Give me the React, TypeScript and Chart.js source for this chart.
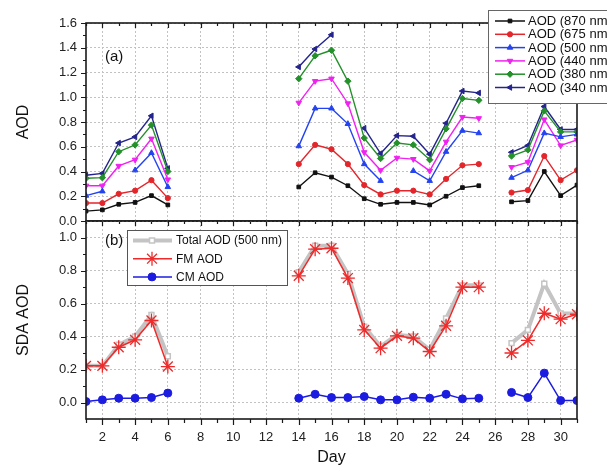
import React, { useEffect, useRef } from 'react';
import { Chart, registerables } from 'chart.js';
import { drawPoint } from 'chart.js/helpers';

Chart.register(...registerables);

const N = null;
const days = [1, 2, 3, 4, 5, 6, 7, 8, 9, 10, 11, 12, 13, 14, 15, 16, 17, 18, 19, 20, 21, 22, 23, 24, 25, 26, 27, 28, 29, 30, 31];
const xTickLabels = [2, 4, 6, 8, 10, 12, 14, 16, 18, 20, 22, 24, 26, 28, 30];
const topYTicks = [0, 0.2, 0.4, 0.6, 0.8, 1.0, 1.2, 1.4, 1.6];
const botYTicks = [0, 0.2, 0.4, 0.6, 0.8, 1.0];

const aod870 = [0.08, 0.09, 0.135, 0.15, 0.205, 0.13, N, N, N, N, N, N, N, 0.275, 0.39, 0.355, 0.285, 0.18, 0.135, 0.15, 0.15, 0.13, 0.2, 0.27, 0.285, N, 0.155, 0.165, 0.4, 0.205, 0.29];
const aod675 = [0.145, 0.145, 0.22, 0.245, 0.33, 0.185, N, N, N, N, N, N, N, 0.46, 0.615, 0.58, 0.46, 0.29, 0.215, 0.245, 0.245, 0.215, 0.34, 0.45, 0.46, N, 0.23, 0.25, 0.525, 0.33, 0.41];
const aod500 = [0.205, 0.24, N, 0.41, 0.55, 0.275, N, N, N, N, N, N, N, 0.605, 0.91, 0.91, 0.785, 0.46, 0.325, N, 0.405, 0.325, 0.56, 0.73, 0.71, N, 0.35, 0.41, 0.71, 0.68, 0.7];
const aod440 = [0.285, 0.285, 0.445, 0.495, 0.665, 0.335, N, N, N, N, N, N, N, 0.955, 1.13, 1.15, 0.95, 0.555, 0.41, 0.51, 0.5, 0.405, 0.64, 0.84, 0.83, N, 0.435, 0.475, 0.82, 0.61, 0.655];
const aod380 = [0.345, 0.35, 0.56, 0.615, 0.775, 0.4, N, N, N, N, N, N, N, 1.15, 1.335, 1.38, 1.13, 0.67, 0.505, 0.63, 0.615, 0.495, 0.745, 0.99, 0.975, N, 0.525, 0.575, 0.89, 0.72, 0.72];
const aod340 = [0.37, 0.385, 0.63, 0.68, 0.85, 0.425, N, N, N, N, N, N, N, 1.245, 1.39, 1.505, N, 0.75, 0.545, 0.69, 0.685, 0.54, 0.79, 1.05, 1.035, N, 0.555, 0.61, 0.925, 0.74, 0.74];

const totalAod = [0.222, 0.222, 0.35, 0.4, 0.53, 0.28, N, N, N, N, N, N, N, 0.79, 0.95, 0.95, 0.78, 0.46, 0.34, 0.41, 0.4, 0.32, 0.51, 0.71, 0.71, N, 0.36, 0.44, 0.72, 0.54, 0.54];
const fmAod = [0.222, 0.222, 0.335, 0.38, 0.497, 0.218, N, N, N, N, N, N, N, 0.768, 0.929, 0.935, 0.754, 0.44, 0.329, 0.404, 0.39, 0.309, 0.465, 0.699, 0.699, N, 0.3, 0.376, 0.541, 0.505, 0.535];
const cmAod = [0.006, 0.016, 0.026, 0.026, 0.03, 0.057, N, N, N, N, N, N, N, 0.026, 0.05, 0.03, 0.03, 0.036, 0.016, 0.016, 0.032, 0.026, 0.05, 0.022, 0.026, N, 0.061, 0.03, 0.178, 0.012, 0.012];

const FONT = "'Liberation Sans', Arial, sans-serif";

type Series = { label: string; data: (number | null)[]; color: string; style: string; rot: number; r: number; fill?: string; width: number; order: number };

const topSeries: Series[] = [
  { label: 'AOD (870 nm)', data: aod870, color: '#111111', style: 'rect', rot: 0, r: 2.6, width: 1.4, order: 1 },
  { label: 'AOD (675 nm)', data: aod675, color: '#e3262b', style: 'circle', rot: 0, r: 2.6, width: 1.4, order: 2 },
  { label: 'AOD (500 nm)', data: aod500, color: '#2443f0', style: 'triangle', rot: 0, r: 3.2, width: 1.4, order: 3 },
  { label: 'AOD (440 nm)', data: aod440, color: '#f022f0', style: 'triangle', rot: 180, r: 3.2, width: 1.4, order: 4 },
  { label: 'AOD (380 nm)', data: aod380, color: '#23902a', style: 'rectRot', rot: 0, r: 3.2, width: 1.4, order: 5 },
  { label: 'AOD (340 nm)', data: aod340, color: '#24248c', style: 'triangle', rot: 270, r: 3.2, width: 1.4, order: 6 },
];

const botSeries: Series[] = [
  { label: 'Total AOD (500 nm)', data: totalAod, color: '#c4c4c4', style: 'rect', rot: 0, r: 3.5, fill: '#ffffff', width: 4, order: 3 },
  { label: 'FM AOD', data: fmAod, color: '#ee2a2a', style: 'star', rot: 0, r: 7, width: 1.5, order: 1 },
  { label: 'CM AOD', data: cmAod, color: '#1c1ce0', style: 'circle', rot: 0, r: 4, width: 1.5, order: 2 },
];

function toPoints(vals: (number | null)[]) {
  return days.map((d, i) => ({ x: d, y: vals[i] }));
}

function makeDatasets(series: Series[]) {
  return series.map((s) => ({
    label: s.label,
    data: toPoints(s.data),
    borderColor: s.color,
    backgroundColor: s.color,
    borderWidth: s.width,
    pointStyle: s.style,
    pointRotation: s.rot,
    pointRadius: s.r,
    pointBackgroundColor: s.fill || s.color,
    pointBorderColor: s.color,
    pointBorderWidth: s.style === 'star' ? 1.3 : s.fill ? 1.5 : 1,
    spanGaps: false,
    tension: 0,
    order: s.order,
  }));
}

function drawMarker(ctx: CanvasRenderingContext2D, s: Series, x: number, y: number) {
  ctx.save();
  ctx.fillStyle = s.fill || s.color;
  ctx.strokeStyle = s.color;
  ctx.lineWidth = s.style === 'star' ? 1.3 : s.fill ? 1.5 : 1;
  drawPoint(ctx, { pointStyle: s.style as any, rotation: s.rot, radius: s.r, borderWidth: ctx.lineWidth }, x, y);
  ctx.restore();
}

function framePlugin(isBottom: boolean, nMinor: number) {
  return {
    id: 'frame',
    afterDraw(chart: any) {
      const { ctx } = chart;
      const { left, right, top, bottom } = chart.chartArea;
      const xs = chart.scales.x;
      const ys = chart.scales.y;
      ctx.save();
      ctx.strokeStyle = '#1a1a1a';
      ctx.lineWidth = 1.2;
      ctx.beginPath();
      for (const d of days) {
        const px = Math.round(xs.getPixelForValue(d)) + 0.5;
        const len = d % 2 === 0 ? 5 : 3;
        ctx.moveTo(px, top);
        ctx.lineTo(px, top + len);
        if (isBottom) {
          ctx.moveTo(px, bottom);
          ctx.lineTo(px, bottom + len + 1);
        }
      }
      for (let i = 0; i <= nMinor; i++) {
        const py = Math.round(ys.getPixelForValue(i / 10)) + 0.5;
        const len = i % 2 === 0 ? 5 : 3;
        ctx.moveTo(left, py);
        ctx.lineTo(left - len, py);
      }
      ctx.stroke();
      ctx.lineWidth = 1.6;
      ctx.strokeRect(left, top, right - left, bottom - top);
      ctx.restore();
    },
  };
}

function legendPlugin(isBottom: boolean) {
  return {
    id: 'customLegend',
    afterDraw(chart: any) {
      const { ctx } = chart;
      ctx.save();
      ctx.textBaseline = 'middle';
      ctx.textAlign = 'left';
      if (!isBottom) {
        ctx.font = `13px ${FONT}`;
        ctx.fillStyle = '#ffffff';
        ctx.fillRect(488, 10, 140, 93);
        ctx.strokeStyle = '#666666';
        ctx.lineWidth = 1;
        ctx.strokeRect(488.5, 10.5, 140, 93);
        topSeries.forEach((s, i) => {
          const y = 21 + i * 13.3;
          ctx.strokeStyle = s.color;
          ctx.lineWidth = 1.5;
          ctx.beginPath();
          ctx.moveTo(495, y);
          ctx.lineTo(525, y);
          ctx.stroke();
          drawMarker(ctx, s, 510, y);
          ctx.fillStyle = '#111111';
          ctx.fillText(s.label, 528, y + 0.5);
        });
        ctx.font = `15px ${FONT}`;
        ctx.fillStyle = '#111111';
        ctx.fillText('(a)', 105, 57);
      } else {
        ctx.font = `12px ${FONT}`;
        ctx.fillStyle = '#ffffff';
        ctx.fillRect(127, 230, 160, 55);
        ctx.strokeStyle = '#555555';
        ctx.lineWidth = 1;
        ctx.strokeRect(127.5, 230.5, 160, 55);
        botSeries.forEach((s, i) => {
          const y = 240.5 + i * 18.2;
          ctx.strokeStyle = s.color;
          ctx.lineWidth = s.width;
          ctx.beginPath();
          ctx.moveTo(133, y);
          ctx.lineTo(172, y);
          ctx.stroke();
          drawMarker(ctx, s, 152, y);
          ctx.fillStyle = '#111111';
          ctx.fillText(s.label, 176, y + 0.5);
        });
        ctx.font = `15px ${FONT}`;
        ctx.fillStyle = '#111111';
        ctx.fillText('(b)', 105, 241);
      }
      ctx.restore();
    },
  };
}

function xScale(isBottom: boolean) {
  return {
    type: 'linear',
    min: 1,
    max: 31,
    afterBuildTicks: (s: any) => {
      s.ticks = xTickLabels.map((v) => ({ value: v }));
    },
    afterFit: (s: any) => {
      s.height = isBottom ? 47 : 0;
    },
    grid: { color: '#c2c2c2', lineWidth: 1, drawTicks: false },
    border: { display: false, dash: [2, 2] },
    ticks: {
      display: isBottom,
      padding: 11,
      color: '#222222',
      font: { size: 13, family: FONT },
      maxRotation: 0,
      autoSkip: false,
      callback: (v: any) => String(v),
    },
    title: {
      display: isBottom,
      text: 'Day',
      color: '#111111',
      font: { size: 16, family: FONT, lineHeight: 1 },
      padding: { top: 0, bottom: 0 },
    },
  };
}

function yScale(min: number, max: number, ticks: number[], title: string) {
  return {
    type: 'linear',
    min,
    max,
    afterBuildTicks: (s: any) => {
      s.ticks = ticks.map((v) => ({ value: v }));
    },
    afterFit: (s: any) => {
      s.width = 86;
    },
    grid: { color: '#c2c2c2', lineWidth: 1, drawTicks: false },
    border: { display: false, dash: [2, 2] },
    ticks: {
      padding: 9,
      color: '#222222',
      font: { size: 13, family: FONT },
      callback: (v: any) => Number(v).toFixed(1),
    },
    title: {
      display: true,
      text: title,
      color: '#111111',
      font: { size: 16, family: FONT },
      padding: { top: 14, bottom: 0 },
    },
  };
}

export default function App() {
  const topRef = useRef<HTMLCanvasElement>(null);
  const botRef = useRef<HTMLCanvasElement>(null);

  useEffect(() => {
    Chart.defaults.font.family = FONT;
    const common = {
      responsive: false,
      animation: false,
      plugins: { legend: { display: false }, tooltip: { enabled: false } },
    };
    const top = new Chart(topRef.current as HTMLCanvasElement, {
      type: 'line',
      data: { datasets: makeDatasets(topSeries) as any },
      options: {
        ...common,
        layout: { padding: { top: 23, bottom: 245, left: 0, right: 30 } },
        scales: { x: xScale(false) as any, y: yScale(0, 1.6, topYTicks, 'AOD') as any },
      } as any,
      plugins: [framePlugin(false, 16), legendPlugin(false)],
    });
    const bot = new Chart(botRef.current as HTMLCanvasElement, {
      type: 'line',
      data: { datasets: makeDatasets(botSeries) as any },
      options: {
        ...common,
        layout: { padding: { top: 221, bottom: 0, left: 0, right: 30 } },
        scales: { x: xScale(true) as any, y: yScale(-0.1, 1.1, botYTicks, 'SDA AOD') as any },
      } as any,
      plugins: [framePlugin(true, 10), legendPlugin(true)],
    });
    return () => {
      top.destroy();
      bot.destroy();
    };
  }, []);

  return (
    <div style={{ position: 'absolute', left: 0, top: 0, width: 607, height: 466, background: '#ffffff', overflow: 'hidden' }}>
      <canvas ref={botRef} width={607} height={466} style={{ position: 'absolute', left: 0, top: 0 }} />
      <canvas ref={topRef} width={607} height={466} style={{ position: 'absolute', left: 0, top: 0 }} />
    </div>
  );
}
